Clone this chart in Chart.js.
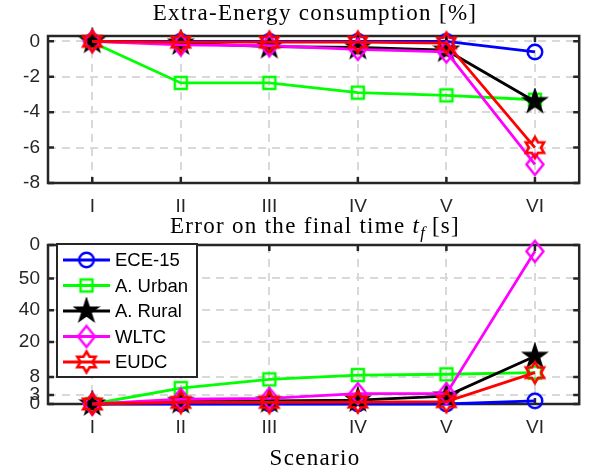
<!DOCTYPE html>
<html><head><meta charset="utf-8">
<script src="https://cdn.jsdelivr.net/npm/chart.js@4"></script>
<style>
html,body{margin:0;padding:0;background:#fff;}
#wrap{position:relative;width:591px;height:470px;overflow:hidden;background:#fff;}
.box{position:absolute;left:0;width:591px;}
.ttl{position:absolute;left:48px;width:534px;text-align:center;font-family:"Liberation Serif",serif;font-size:23px;letter-spacing:1.3px;color:#000;white-space:nowrap;line-height:1;}
.ttl sub{font-size:0.72em;vertical-align:-0.28em;line-height:0;letter-spacing:0;}
</style></head><body>
<div id="wrap">
 <div class="box" style="top:0;height:222px"><canvas id="c1" width="591" height="222"></canvas></div>
 <div class="box" style="top:222px;height:248px"><canvas id="c2" width="591" height="248"></canvas></div>
 <div class="ttl" style="top:1px">Extra-Energy consumption [%]</div>
 <div class="ttl" style="top:214px">Error on the final time <i>t</i><sub><i>f</i></sub> [s]</div>
 <div class="ttl" style="top:446px">Scenario</div>
</div>
<script>
// ---------- data ----------
const scenarios = ['I','II','III','IV','V','VI'];
const seriesNames = ['ECE-15','A. Urban','A. Rural','WLTC','EUDC'];

// Extra-Energy consumption [%]
const energyECE   = [0, 0, 0, 0, 0, -0.6];
const energyUrban = [-0.05, -2.35, -2.35, -2.9, -3.05, -3.3];
const energyRural = [0, -0.1, -0.3, -0.35, -0.5, -3.4];
const energyWLTC  = [0, -0.2, -0.25, -0.45, -0.6, -6.95];
const energyEUDC  = [0, -0.05, -0.05, -0.05, -0.1, -6.0];
const energyTickValues = [-8, -6, -4, -2, 0];
const energyTickLabels = ['-8', '-6', '-4', '-2', '0'];

// Error on the final time (axis units, custom labelled axis)
const errorECE   = [0, 0, 0, 0, 0, 2];
const errorUrban = [0, 10, 15.5, 18.2, 18.7, 19.7];
const errorRural = [0, 1.5, 2, 2.5, 5, 30];
const errorWLTC  = [0, 3, 3.5, 6.5, 6.5, 96];
const errorEUDC  = [0, 1, 1, 1.2, 1.5, 19.7];
const errorTickValues = [0, 5.7, 17, 39, 59, 79, 100];
const errorTickLabels = ['0', '3', '8', '20', '40', '50', '0'];

// ---------- styles ----------
const colors = ['#0000ff', '#00ff00', '#000000', '#ff00ff', '#ff0000'];
const markerKinds = ['circle', 'square', 'pentagram', 'diamond', 'hexagram'];
const axisColor = '#262626';
const gridColor = '#d9d9d9';
const tickFont = {family: '"Liberation Sans", Arial, sans-serif', size: 19};

function starPath(g, n, R, r) {
  for (let i = 0; i < 2 * n; i++) {
    const rad = (i % 2 === 0) ? R : r;
    const a = -Math.PI / 2 + i * Math.PI / n;
    const px = rad * Math.cos(a), py = rad * Math.sin(a);
    if (i === 0) g.moveTo(px, py); else g.lineTo(px, py);
  }
  g.closePath();
}
function makeMarker(kind, color) {
  const s = 28, c = document.createElement('canvas');
  c.width = s; c.height = s;
  const g = c.getContext('2d');
  g.translate(s / 2, s / 2);
  g.lineWidth = 2.4; g.strokeStyle = color; g.fillStyle = color; g.lineJoin = 'miter';
  g.beginPath();
  if (kind === 'circle') { g.arc(0, 0, 7.3, 0, Math.PI * 2); g.stroke(); }
  else if (kind === 'square') { g.rect(-6, -6, 12, 12); g.stroke(); }
  else if (kind === 'diamond') { g.moveTo(0, -10.5); g.lineTo(8.5, 0); g.lineTo(0, 10.5); g.lineTo(-8.5, 0); g.closePath(); g.stroke(); }
  else if (kind === 'pentagram') { starPath(g, 5, 11, 11 * 0.382); g.fill(); g.stroke(); }
  else if (kind === 'hexagram') { g.lineWidth = 2.6; starPath(g, 6, 10.5, 10.5 / Math.sqrt(3)); g.stroke(); }
  return c;
}
const markers = markerKinds.map((k, i) => makeMarker(k, colors[i]));

function datasets(arrays) {
  return arrays.map((arr, i) => ({
    label: seriesNames[i],
    data: arr,
    borderColor: colors[i],
    backgroundColor: colors[i],
    borderWidth: 2.8,
    pointStyle: markers[i],
    pointRadius: 9,
    pointHoverRadius: 9,
    fill: false,
    tension: 0,
    clip: false,
    order: arrays.length - i
  }));
}

const framePlugin = {
  id: 'frame',
  beforeDatasetsDraw(chart) {
    const {ctx, chartArea: a, scales: {x, y}} = chart;
    ctx.save();
    ctx.strokeStyle = axisColor; ctx.lineWidth = 2.5;
    ctx.beginPath();
    const tl = 6;
    x.ticks.forEach((t, i) => {
      const px = x.getPixelForTick(i);
      ctx.moveTo(px, a.bottom); ctx.lineTo(px, a.bottom - tl);
      ctx.moveTo(px, a.top); ctx.lineTo(px, a.top + tl);
    });
    y.ticks.forEach((t, i) => {
      const py = y.getPixelForTick(i);
      ctx.moveTo(a.left, py); ctx.lineTo(a.left + tl, py);
      ctx.moveTo(a.right, py); ctx.lineTo(a.right - tl, py);
    });
    ctx.stroke();
    ctx.strokeRect(a.left, a.top, a.right - a.left, a.bottom - a.top);
    ctx.restore();
  }
};

const legendPlugin = {
  id: 'boxLegend',
  afterDatasetsDraw(chart) {
    const {ctx, chartArea: a} = chart;
    const left = a.left + 9, top = a.top - 1, w = 140, h = 133;
    ctx.save();
    ctx.fillStyle = '#ffffff';
    ctx.fillRect(left, top, w, h);
    ctx.strokeStyle = axisColor; ctx.lineWidth = 2;
    ctx.strokeRect(left, top, w, h);
    ctx.font = '18.5px "Liberation Sans", Arial, sans-serif';
    ctx.textBaseline = 'middle'; ctx.textAlign = 'left';
    chart.data.datasets.forEach((ds, i) => {
      const cy = top + 16 + i * 25.5;
      ctx.strokeStyle = ds.borderColor; ctx.lineWidth = 2.8;
      ctx.beginPath(); ctx.moveTo(left + 6, cy); ctx.lineTo(left + 53, cy); ctx.stroke();
      const m = ds.pointStyle;
      ctx.drawImage(m, left + 29.5 - m.width / 2, cy - m.height / 2);
      ctx.fillStyle = '#000';
      ctx.fillText(ds.label, left + 58, cy + 1);
    });
    ctx.restore();
  }
};

function makeChart(id, arrays, yMin, yMax, tickValues, tickLabels, padTop, xHeight, withLegend) {
  return new Chart(document.getElementById(id), {
    type: 'line',
    data: {labels: scenarios, datasets: datasets(arrays)},
    options: {
      responsive: false, animation: false, devicePixelRatio: 1,
      layout: {padding: {top: padTop, right: 9, left: 0, bottom: 0}},
      plugins: {legend: {display: false}, tooltip: {enabled: false}, title: {display: false}},
      scales: {
        x: {
          type: 'category', offset: true,
          grid: {offset: false, color: gridColor, lineWidth: 2, drawTicks: false},
          border: {display: false, dash: [8, 6]},
          ticks: {color: axisColor, font: tickFont, padding: 12, autoSkip: false, maxRotation: 0},
          afterFit(s) { s.height = xHeight; }
        },
        y: {
          min: yMin, max: yMax,
          grid: {color: gridColor, lineWidth: 2, drawTicks: false},
          border: {display: false, dash: [8, 6]},
          afterBuildTicks(s) { s.ticks = tickValues.map(v => ({value: v})); },
          ticks: {color: axisColor, font: tickFont, padding: 8, autoSkip: false,
                  callback: (v, i) => tickLabels[i]},
          afterFit(s) { s.width = 48; }
        }
      }
    },
    plugins: withLegend ? [framePlugin, legendPlugin] : [framePlugin]
  });
}

makeChart('c1', [energyECE, energyUrban, energyRural, energyWLTC, energyEUDC],
          -8, 0.3, energyTickValues, energyTickLabels, 36, 39, false);
makeChart('c2', [errorECE, errorUrban, errorRural, errorWLTC, errorEUDC],
          0, 100, errorTickValues, errorTickLabels, 23, 66, true);
</script>
</body></html>
